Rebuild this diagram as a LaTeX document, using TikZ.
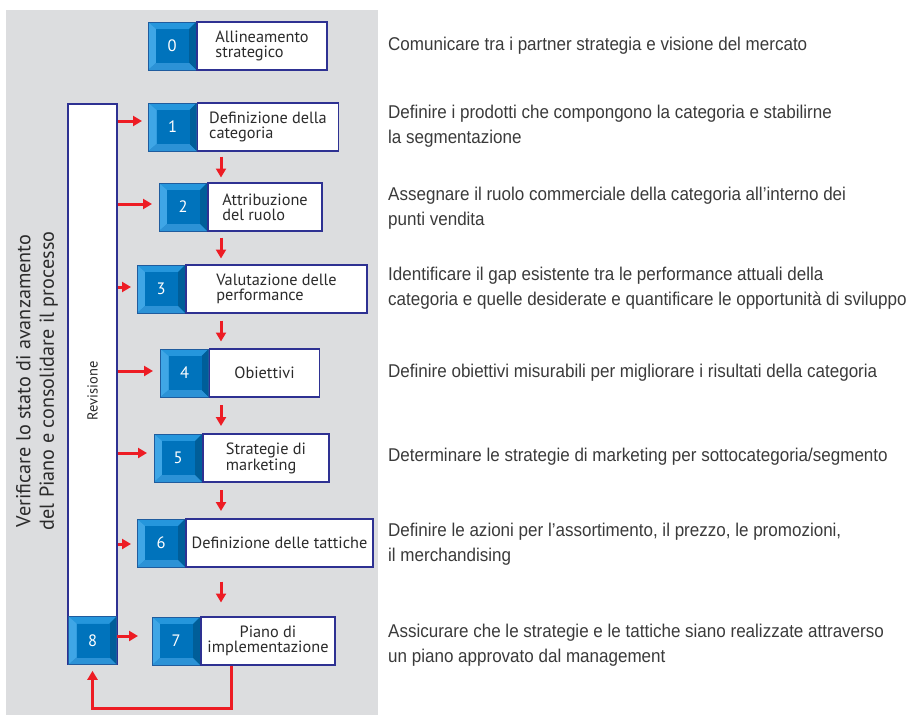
\documentclass[tikz,border=0pt]{standalone}
\usepackage{fontspec}
\setmainfont{PT Sans}
\newfontfamily\descfont[FakeStretch=0.92]{Liberation Sans}
\usetikzlibrary{arrows.meta,calc}

\definecolor{panel}{HTML}{DCDDDF}
\definecolor{navy}{HTML}{2E3192}
\definecolor{btnmid}{HTML}{1A8CD4}
\definecolor{btnlight}{HTML}{3FA6E6}
\definecolor{btntop}{HTML}{2596DC}
\definecolor{btndark}{HTML}{005E99}
\definecolor{btnbottom}{HTML}{2C92D6}
\definecolor{btnface}{HTML}{0073BC}
\definecolor{btnedge}{HTML}{1F5C9E}
\definecolor{flow}{HTML}{ED1C24}
\definecolor{ink}{HTML}{2B2B2B}
\definecolor{desctext}{HTML}{3A3A3A}

\tikzset{
  btn/.style={minimum size=48pt, inner sep=0pt, draw=btnedge, line width=0.6pt,
    fill=btnmid, text=white, font=\fontsize{16.5}{16.5}\selectfont,
    path picture={
      \coordinate (pNW) at (path picture bounding box.north west);
      \coordinate (pNE) at (path picture bounding box.north east);
      \coordinate (pSE) at (path picture bounding box.south east);
      \coordinate (pSW) at (path picture bounding box.south west);
      \coordinate (qNW) at ($(pNW)+(8pt,-7pt)$);
      \coordinate (qNE) at ($(pNE)+(-7pt,-7pt)$);
      \coordinate (qSE) at ($(pSE)+(-7pt,7pt)$);
      \coordinate (qSW) at ($(pSW)+(8pt,7pt)$);
      \fill[btntop] (pNW) -- (pNE) -- (qNE) -- (qNW) -- cycle;
      \fill[btnlight] (pNW) -- (qNW) -- (qSW) -- (pSW) -- cycle;
      \fill[btndark] (pNE) -- (pSE) -- (qSE) -- (qNE) -- cycle;
      \fill[btnbottom] (pSW) -- (qSW) -- (qSE) -- (pSE) -- cycle;
      \fill[btnface] (qNW) rectangle (qSE);
    }},
  txt/.style={draw=navy, line width=1.4pt, fill=white, minimum height=48pt,
    inner sep=0pt, anchor=west, align=left, text=ink,
    font=\fontsize{16.3}{14.8}\selectfont},
  desc/.style={anchor=west, align=left, inner sep=0pt, text=desctext,
    font=\descfont\fontsize{18.5}{24.5}\selectfont},
  bar/.style={draw=navy, line width=1.4pt, fill=white, inner sep=0pt},
  ra/.style={draw=flow, line width=3pt, -{Triangle[length=9pt,width=10pt]}},
}

\begin{document}
\begin{tikzpicture}[x=1pt,y=-1pt]
\useasboundingbox (0,0) rectangle (909,715);
\fill[panel] (6,10) rectangle (378,715);

% side caption
\node[rotate=90, align=center, text=ink, font=\fontsize{20.2}{23.5}\selectfont]
  (side) at (37,381) {Verificare lo stato di avanzamento\\del Piano e consolidare il processo};

% review bar and its caption
\node[bar, minimum width=49pt, minimum height=560pt] (rev) at (92.5,384) {};
\node[rotate=90, text=ink, font=\fontsize{14.5}{14.5}\selectfont]
  (revcap) at (92.5,391) {Revisione};

% process steps
\node[btn] (b0) at (172,46) {0};
\node[txt, minimum width=130pt] (t0) at (b0.east) {Allineamento\\strategico};
\node[btn] (b1) at (172.5,127) {1};
\node[txt, minimum width=141pt] (t1) at (b1.east) {Definizione della\\categoria};
\node[btn] (b2) at (183,207) {2};
\node[txt, minimum width=114pt] (t2) at (b2.east) {Attribuzione\\del ruolo};
\node[btn] (b3) at (161,289) {3};
\node[txt, minimum width=181pt] (t3) at (b3.east) {Valutazione delle\\performance};
\node[btn] (b4) at (184.5,373) {4};
\node[txt, minimum width=110pt] (t4) at (b4.east) {Obiettivi};
\node[btn] (b5) at (178,458) {5};
\node[txt, minimum width=126pt] (t5) at (b5.east) {Strategie di\\marketing};
\node[btn] (b6) at (161,543) {6};
\node[txt, minimum width=187pt] (t6) at (b6.east) {Definizione delle tattiche};
\node[btn] (b7) at (176,641) {7};
\node[txt, minimum width=134pt, align=center] (t7) at (b7.east) {Piano di\\implementazione};
\node[btn] (b8) at (92.5,640.5) {8};

% descriptions
\node[desc] (d0) at (388,46) {Comunicare tra i partner strategia e visione del mercato};
\node[desc] (d1) at (388,126) {Definire i prodotti che compongono la categoria e stabilirne\\la segmentazione};
\node[desc] (d2) at (388,208) {Assegnare il ruolo commerciale della categoria all’interno dei\\punti vendita};
\node[desc] (d3) at (388,288) {Identificare il gap esistente tra le performance attuali della\\categoria e quelle desiderate e quantificare le opportunità di sviluppo};
\node[desc] (d4) at (388,373) {Definire obiettivi misurabili per migliorare i risultati della categoria};
\node[desc] (d5) at (388,457) {Determinare le strategie di marketing per sottocategoria/segmento};
\node[desc] (d6) at (388,544) {Definire le azioni per l’assortimento, il prezzo, le promozioni,\\il merchandising};
\node[desc] (d7) at (388,645) {Assicurare che le strategie e le tattiche siano realizzate attraverso\\un piano approvato dal management};

% review feeds every step
\coordinate (h1) at (142,121);
\coordinate (h2) at (152,204);
\coordinate (h3) at (131,287);
\coordinate (h4) at (153,371);
\coordinate (h5) at (147,453);
\coordinate (h6) at (131,544);
\foreach \h in {h1,h2,h3,h4,h5,h6}
  \draw[ra] (rev.east |- \h) -- (\h);
\coordinate (h7) at (138,636);
\draw[ra] (b8.east |- h7) -- (h7);

% step sequence
\coordinate (vx) at (221,0);
\foreach \a/\b in {t1/t2,t2/t3,t3/t4,t4/t5,t5/t6,t6/t7}
  \draw[ra] ($(\a.south -| vx)!0.5!(\b.north -| vx)+(0,-10.5)$) -- ++(0,21);

% loop back to review
\coordinate (fb) at (231,708);
\draw[ra, shorten >=6pt]
  (t7.south -| fb) -- (fb) -| (b8.south);
\end{tikzpicture}
\end{document}
